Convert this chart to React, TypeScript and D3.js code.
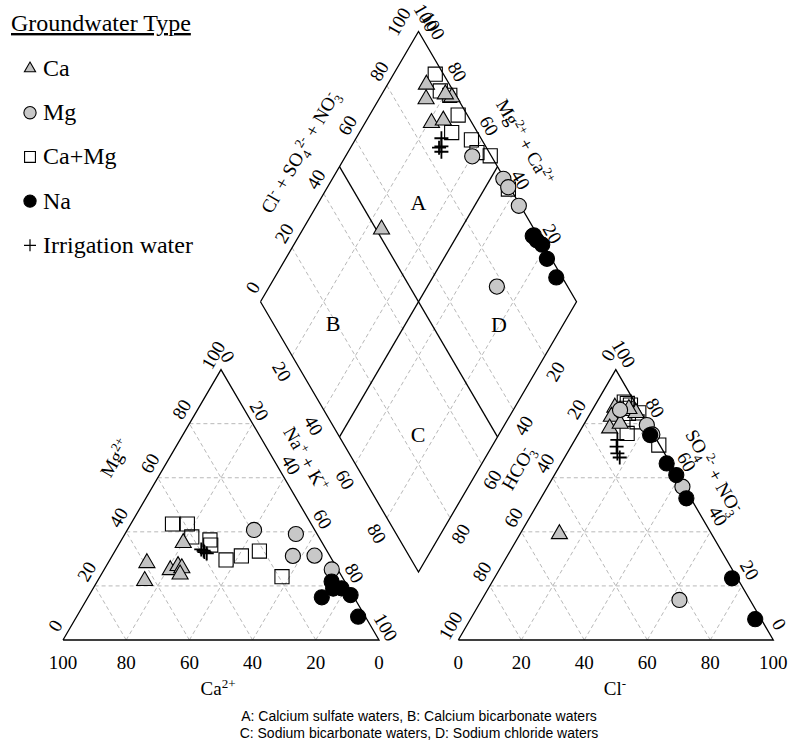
import React from 'react'
import * as d3 from 'd3'

// meq% of each sample: [Mg2+, Na+ + K+, SO4 2- + NO3-, Cl-]
// Ca2+ and HCO3- are what is left in each triangle
const caType = [
  [28.5, 12.3, 86.0, 6.7],
  [21.9, 14.9, 82.6, 7.3],
  [25.9, 21.0, 78.3, 8.9],
  [27.4, 22.7, 84.0, 14.4],
  [26.6, 24.3, 80.0, 11.4],
  [24.3, 24.9, 39.2, 12.5],
  [35.9, 20.1, 85.5, 11.4],
]
const mgType = [
  [40.7, 40.1, 85.1, 8.8],
  [39.2, 54.1, 79.5, 20.1],
  [31.1, 57.2, 76.0, 23.6],
  [31.2, 64.0, 56.7, 42.8],
  [26.1, 72.0, 14.8, 62.8],
]
const caMgType = [
  [42.9, 13.2, 87.5, 9.9],
  [42.9, 17.9, 83.8, 12.1],
  [38.1, 21.7, 86.9, 11.2],
  [37.0, 28.0, 80.7, 16.4],
  [35.1, 29.2, 76.4, 15.4],
  [29.6, 36.8, 88.0, 8.7],
  [31.1, 40.9, 85.7, 10.4],
  [32.9, 45.7, 72.1, 27.6],
  [23.4, 57.6, 84.0, 15.3],
]
const naType = [
  [21.6, 74.2, 75.8, 23.0],
  [19.0, 76.0, 65.3, 33.5],
  [19.1, 78.6, 61.0, 38.7],
  [16.6, 82.7, 52.4, 46.2],
  [15.8, 74.0, 22.8, 75.5],
  [8.6, 89.1, 7.7, 90.4],
]
const irrigation = [
  [33.5, 27.0, 74.0, 13.5],
  [32.5, 28.5, 71.5, 14.5],
  [32.0, 29.5, 69.0, 16.0],
  [33.0, 28.0, 67.5, 17.5],
]

const ticks = [0, 20, 40, 60, 80, 100]
const innerTicks = [20, 40, 60, 80]
const legendTitle = 'Groundwater Type'
const captionLines = [
  'A: Calcium sulfate waters, B: Calcium bicarbonate waters',
  'C: Sodium bicarbonate waters, D: Sodium chloride waters',
]

const serif = '"Liberation Serif", "Times New Roman", serif'
const sans = '"Liberation Sans", Arial, sans-serif'
const gridColor = '#b8b8b8'

// ---------------------------------------------------------------- //
// geometry
const leftX = d3.scaleLinear().domain([0, 100]).range([63, 379])
const rightX = d3.scaleLinear().domain([0, 100]).range([458.3, 773.3])
const triY = d3.scaleLinear().domain([0, 100]).range([640, 369.6])
const dX = d3.scaleLinear().domain([0, 200]).range([260.5, 576.5])
const dY = d3.scaleLinear().domain([-100, 100]).range([31.5, 572])

type P = [number, number]
// cation triangle: Mg up, Na+K to the right
const cat = (mg: number, na: number): P => [leftX(na + mg / 2), triY(mg)]
// anion triangle: SO4 up, Cl to the right
const ani = (so4: number, cl: number): P => [rightX(cl + so4 / 2), triY(so4)]
// diamond: u = Cl + SO4, v = Na + K
const dia = (u: number, v: number): P => [dX(u + v), dY(v - u)]

const line = d3.line()

const groups = [
  { name: 'Ca+Mg', rows: caMgType, shape: 'square', fill: 'none' },
  { name: 'Ca', rows: caType, shape: 'triangle', fill: '#c2c2c2' },
  { name: 'Mg', rows: mgType, shape: 'circle', fill: '#c8c8c8' },
  { name: 'Na', rows: naType, shape: 'circle', fill: '#000' },
  { name: 'Irrigation water', rows: irrigation, shape: 'plus', fill: 'none' },
]
const legendOrder = ['Ca', 'Mg', 'Ca+Mg', 'Na', 'Irrigation water']

const symbolPath = (shape: string, big: boolean) => {
  if (shape === 'triangle') return d3.symbol(d3.symbolTriangle, big ? 112 : 54)()
  if (shape === 'square') return d3.symbol(d3.symbolSquare, big ? 200 : 118)()
  if (shape === 'circle') return d3.symbol(d3.symbolCircle, big ? 180 : 118)()
  const h = big ? 7 : 6
  return `M${-h},0H${h}M0,${-h}V${h}`
}

const Marker = ({ shape, fill, p, big = true }: { shape: string; fill: string; p: P; big?: boolean }) => (
  <path
    d={symbolPath(shape, big) as string}
    transform={`translate(${p[0]},${p[1]})`}
    fill={shape === 'plus' ? 'none' : fill}
    stroke="#000"
    strokeWidth={shape === 'plus' ? (big ? 1.8 : 1.2) : 1.1}
  />
)

type Tick = { p: P; text: string; rot: number }
const edge = (vals: number[], pt: (t: number) => P, off: P, rot: number): Tick[] =>
  vals.map(t => {
    const [x, y] = pt(t)
    return { p: [x + off[0], y + off[1]], text: String(t), rot }
  })

const tickLabels: Tick[] = [
  // cation triangle
  ...ticks.map(t => ({ p: [cat(0, 100 - t)[0], 662] as P, text: String(t), rot: 0 })),
  ...edge(ticks, t => cat(t, 0), [-8, -14.5], -60),
  ...edge(ticks, t => cat(100 - t, t), [7, -13], 60),
  // anion triangle
  ...ticks.map(t => ({ p: [ani(0, t)[0], 662] as P, text: String(t), rot: 0 })),
  ...edge(ticks, t => ani(100 - t, 0), [-8, -14.5], -60),
  ...edge(ticks.slice(1), t => ani(t, 100 - t), [8, -16], 60),
  ...edge([0], t => ani(t, 100 - t), [6, -16], 60),
  // diamond
  ...edge(ticks.slice(0, 5), t => dia(t, 0), [-8, -14.5], -60),
  ...edge([100], t => dia(t, 0), [-20, -10], -60),
  ...edge(ticks.slice(1), t => dia(100, 100 - t), [7.5, -14], 60),
  ...edge([100], t => dia(100, 100 - t), [15, -6], 60),
  ...edge(innerTicks, t => dia(0, t), [-10, 15.5], 60),
  ...edge(innerTicks, t => dia(100 - t, 100), [10.3, 15.7], -60),
]

// where the region letters sit, in diamond coordinates [u, v]
const regions: [string, number, number][] = [
  ['A', 68.4, 31.6],
  ['B', 19, 26.9],
  ['C', 25.4, 74.4],
  ['D', 71.3, 79.6],
]

const gridLines = (): P[][] => {
  const out: P[][] = []
  innerTicks.forEach(t => {
    out.push([cat(t, 0), cat(t, 100 - t)])
    out.push([cat(0, t), cat(100 - t, t)])
    out.push([cat(0, 100 - t), cat(100 - t, 0)])
    out.push([ani(t, 0), ani(t, 100 - t)])
    out.push([ani(0, t), ani(100 - t, t)])
    out.push([ani(0, 100 - t), ani(100 - t, 0)])
    out.push([dia(t, 0), dia(t, 100)])
    out.push([dia(0, t), dia(100, t)])
  })
  return out
}

// rich text: [text, kind, dx]  kind: n = normal, sup, sub
type Seg = [string, string, number?]
const levels: Record<string, number> = { n: 0, sup: -7, sub: 5 }
const Title = ({ x, y, rot = 0, segs }: { x: number; y: number; rot?: number; segs: Seg[] }) => {
  let cur = 0
  return (
    <text transform={`translate(${x},${y}) rotate(${rot})`} textAnchor="middle" fontSize={19}>
      {segs.map(([s, k, dx], i) => {
        const target = levels[k]
        const dy = target - cur + (i === 0 ? 6.5 : 0)
        cur = target
        return (
          <tspan key={i} dy={dy} dx={dx || 0} fontSize={k === 'n' ? 19 : 13}>{s}</tspan>
        )
      })}
    </text>
  )
}

export default function App() {
  const cationOutline = [cat(0, 0), cat(100, 0), cat(0, 100), cat(0, 0)]
  const anionOutline = [ani(0, 0), ani(100, 0), ani(0, 100), ani(0, 0)]
  const diaOutline = [dia(0, 0), dia(100, 0), dia(100, 100), dia(0, 100), dia(0, 0)]

  return (
    <svg width={791} height={749} style={{ position: 'absolute', left: 0, top: 0, background: '#fff', fontFamily: serif }}>
      {/* grid */}
      <g stroke={gridColor} strokeWidth={1} strokeDasharray="4 3" fill="none">
        {gridLines().map((l, i) => <path key={i} d={line(l) as string} />)}
      </g>
      {/* outlines */}
      <g stroke="#000" strokeWidth={1.3} fill="none">
        <path d={line(cationOutline) as string} />
        <path d={line(anionOutline) as string} />
        <path d={line(diaOutline) as string} />
        <path d={line([dia(50, 0), dia(50, 100)]) as string} />
        <path d={line([dia(0, 50), dia(100, 50)]) as string} />
      </g>

      {/* tick labels */}
      <g fontSize={19} textAnchor="middle">
        {tickLabels.map((t, i) => (
          <text key={i} transform={`translate(${t.p[0]},${t.p[1]}) rotate(${t.rot})`} dy="0.35em">{t.text}</text>
        ))}
      </g>

      {/* axis titles */}
      <Title x={115} y={458} rot={-60} segs={[['Mg', 'n'], ['2+', 'sup']]} />
      <Title x={306} y={459} rot={60} segs={[['Na', 'n'], ['+', 'sup'], [' + K', 'n'], ['+', 'sup']]} />
      <Title x={218} y={688} segs={[['Ca', 'n'], ['2+', 'sup']]} />
      <Title
        x={300} y={152} rot={-60}
        segs={[['Cl', 'n'], ['-', 'sup'], [' + SO', 'n'], ['4', 'sub'], ['2-', 'sup', -1], [' + NO', 'n'], ['3', 'sub'], ['-', 'sup', -6]]}
      />
      <Title x={525} y={142} rot={60} segs={[['Mg', 'n'], ['2+', 'sup'], [' + Ca', 'n'], ['2+', 'sup']]} />
      <Title x={518} y={468} rot={-60} segs={[['HCO', 'n'], ['3', 'sub'], ['-', 'sup', -6]]} />
      <Title
        x={714} y={472} rot={60}
        segs={[['SO', 'n'], ['4', 'sub'], ['2-', 'sup', -1], [' + NO', 'n'], ['3', 'sub'], ['-', 'sup', -6]]}
      />
      <Title x={615} y={688} segs={[['Cl', 'n'], ['-', 'sup']]} />

      {/* region letters */}
      <g fontSize={22} textAnchor="middle">
        {regions.map(([k, u, v]) => {
          const [x, y] = dia(u, v)
          return <text key={k} x={x} y={y} dy="0.35em">{k}</text>
        })}
      </g>

      {/* samples */}
      {groups.map(g => (
        <g key={g.name}>
          {g.rows.map((r, i) => (
            <g key={i}>
              <Marker shape={g.shape} fill={g.fill} p={cat(r[0], r[1])} />
              <Marker shape={g.shape} fill={g.fill} p={ani(r[2], r[3])} />
              <Marker shape={g.shape} fill={g.fill} p={dia(r[2] + r[3], r[1])} />
            </g>
          ))}
        </g>
      ))}

      {/* legend */}
      <text x={11} y={31} fontSize={24} textDecoration="underline">{legendTitle}</text>
      {legendOrder.map((name, i) => {
        const g = groups.find(d => d.name === name)!
        const base = 76 + i * 44.2
        return (
          <g key={name}>
            <Marker shape={g.shape} fill={g.shape === 'square' ? '#fff' : g.fill} p={[30, base - 7.5]} big={false} />
            <text x={43} y={base} fontSize={24}>{name}</text>
          </g>
        )
      })}

      {/* caption */}
      <g style={{ fontFamily: sans }} fontSize={14} textAnchor="middle">
        {captionLines.map((c, i) => (
          <text key={i} x={419} y={721 + i * 17}>{c}</text>
        ))}
      </g>
    </svg>
  )
}
